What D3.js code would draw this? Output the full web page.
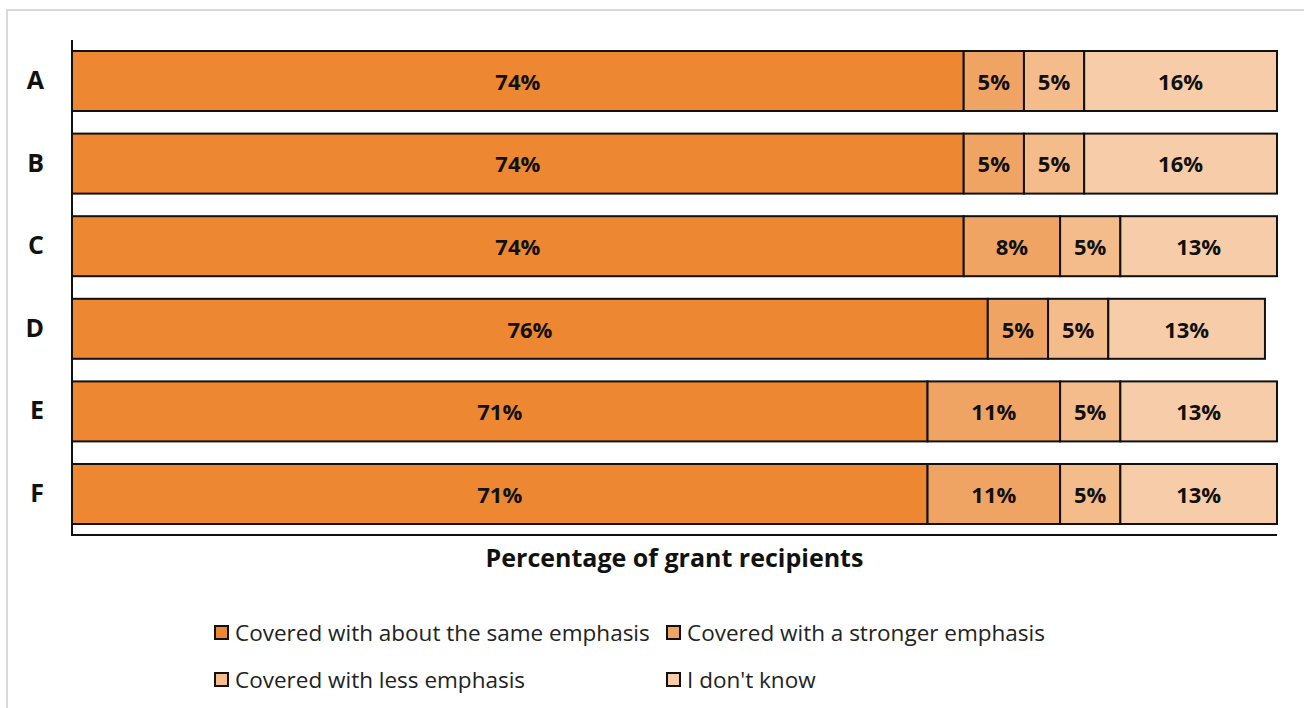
<!DOCTYPE html>
<html>
<head>
<meta charset="utf-8">
<script src="https://cdn.jsdelivr.net/npm/d3@7"></script>
<style>
  html, body { margin: 0; padding: 0; background: #fff; }
  svg { display: block; font-family: "Open Sans", "Noto Sans", sans-serif; }
</style>
</head>
<body>
<svg id="chart" width="1304" height="708"></svg>
<script>
// Survey responses per item (percent of grant recipients)
const categories = ["A", "B", "C", "D", "E", "F"];
const seriesNames = [
  "Covered with about the same emphasis",
  "Covered with a stronger emphasis",
  "Covered with less emphasis",
  "I don't know"
];
const sameEmphasis     = [74, 74, 74, 76, 71, 71];
const strongerEmphasis = [5, 5, 8, 5, 11, 11];
const lessEmphasis     = [5, 5, 5, 5, 5, 5];
const dontKnow         = [16, 16, 13, 13, 13, 13];
const seriesColors = ["#ED8731", "#F0A464", "#F4BB8B", "#F7CDA9"];
const axisTitle = "Percentage of grant recipients";

const rows = categories.map((c, i) => ({
  cat: c,
  values: [sameEmphasis[i], strongerEmphasis[i], lessEmphasis[i], dontKnow[i]]
}));

const svg = d3.select("#chart");

// outer frame
svg.append("rect")
  .attr("x", 7).attr("y", 10)
  .attr("width", 1310).attr("height", 720)
  .attr("fill", "none").attr("stroke", "#d9d9d9").attr("stroke-width", 2);

const margin = { left: 72, top: 42, right: 1277, bottom: 535 };

const x = d3.scaleLinear().domain([0, 100]).range([margin.left, margin.right]);
const y = d3.scaleBand().domain(categories).range([margin.top, margin.bottom - 2])
  .paddingInner(0.2736).paddingOuter(0.109);

// stacked segments
const stackData = rows.map(r => {
  let acc = 0;
  return r.values.map((v, k) => {
    const seg = { cat: r.cat, k, v, x0: acc, x1: acc + v };
    acc += v;
    return seg;
  });
}).flat();

const g = svg.append("g");
g.selectAll("rect.seg").data(stackData).join("rect")
  .attr("class", "seg")
  .attr("x", d => x(d.x0))
  .attr("y", d => y(d.cat))
  .attr("width", d => x(d.x1) - x(d.x0))
  .attr("height", y.bandwidth())
  .attr("fill", d => seriesColors[d.k])
  .attr("stroke", "#111")
  .attr("stroke-width", 2);

g.selectAll("text.val").data(stackData).join("text")
  .attr("class", "val")
  .attr("x", d => (x(d.x0) + x(d.x1)) / 2)
  .attr("y", d => y(d.cat) + y.bandwidth() / 2)
  .attr("dy", "0.4em")
  .attr("text-anchor", "middle")
  .attr("font-size", 22)
  .attr("font-weight", 700)
  .attr("fill", "#111")
  .text(d => d.v + "%");

// axes without ticks
const yAxis = d3.axisLeft(y).tickSize(0).tickPadding(28);
const yG = svg.append("g").attr("transform", `translate(${margin.left},0)`).call(yAxis);
yG.select(".domain").remove();
yG.selectAll("text").attr("font-size", 25).attr("font-weight", 700)
  .attr("fill", "#111").attr("font-family", "\"Open Sans\", sans-serif");

svg.append("line")
  .attr("x1", margin.left).attr("x2", margin.left)
  .attr("y1", margin.top - 2).attr("y2", margin.bottom + 1)
  .attr("stroke", "#111").attr("stroke-width", 2);
svg.append("line")
  .attr("x1", margin.left - 1).attr("x2", margin.right)
  .attr("y1", margin.bottom).attr("y2", margin.bottom)
  .attr("stroke", "#111").attr("stroke-width", 2);

svg.append("text")
  .attr("x", (margin.left + margin.right) / 2)
  .attr("y", 567)
  .attr("text-anchor", "middle")
  .attr("font-size", 25)
  .attr("font-weight", 700)
  .attr("fill", "#111")
  .text(axisTitle);

// legend (2 x 2)
const legendPos = [
  { x: 214, y: 633 }, { x: 666, y: 633 },
  { x: 214, y: 680 }, { x: 666, y: 680 }
];
const lg = svg.append("g").selectAll("g").data(seriesNames).join("g")
  .attr("transform", (d, i) => `translate(${legendPos[i].x},${legendPos[i].y})`);
lg.append("rect")
  .attr("x", 1).attr("y", -7).attr("width", 13).attr("height", 13)
  .attr("fill", (d, i) => seriesColors[i])
  .attr("stroke", "#111").attr("stroke-width", 2);
lg.append("text")
  .attr("x", 21).attr("dy", "0.36em")
  .attr("font-size", 22.5)
  .attr("fill", "#222")
  .text(d => d);
</script>
</body>
</html>
